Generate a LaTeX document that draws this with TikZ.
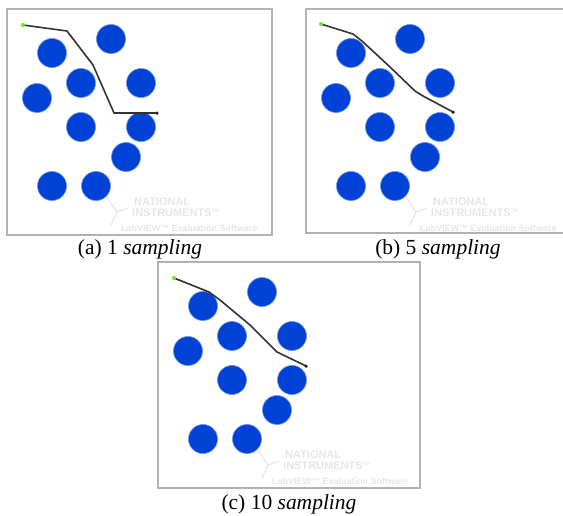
\documentclass[tikz,border=0pt]{standalone}
\usepackage{fontspec}
\setmainfont{Liberation Serif}
\newfontfamily\wmfont{Liberation Sans}
\definecolor{obst}{RGB}{0,66,214}
\definecolor{framec}{RGB}{178,178,178}
\definecolor{startc}{RGB}{110,230,60}
\definecolor{wmc}{RGB}{230,230,230}
\tikzset{
  obstacle/.style={circle,fill=obst,draw=obst!60!white,line width=0.6pt,minimum size=29pt,inner sep=0pt},
  panelframe/.style={draw=framec,line width=1.4pt},
  pathline/.style={draw=black!80,line width=1.6pt,line join=round,line cap=round},
  startdot/.style={circle,fill=startc,minimum size=4pt,inner sep=0pt},
  enddot/.style={circle,fill=black,minimum size=3.5pt,inner sep=0pt},
  caption/.style={font=\fontsize{21.5}{24}\selectfont,anchor=center,inner sep=0pt},
  wmtext/.style={font=\wmfont\bfseries\fontsize{11}{12}\selectfont,text=wmc,anchor=west,inner sep=0pt}
}
\newcommand{\obstacles}{%
  \node[obstacle] (o1) at (104,30) {};
  \node[obstacle] (o2) at (45,44) {};
  \node[obstacle] (o3) at (74,74) {};
  \node[obstacle] (o4) at (134,74) {};
  \node[obstacle] (o5) at (30,89) {};
  \node[obstacle] (o6) at (74,118) {};
  \node[obstacle] (o7) at (134,118) {};
  \node[obstacle] (o8) at (119,148) {};
  \node[obstacle] (o9) at (45,177) {};
  \node[obstacle] (o10) at (89,177) {};
}
\newcommand{\watermark}[1]{%
  \begin{scope}
    \clip (0,0) rectangle (#1,226);
    \draw[wmc,line width=1.2pt] (100,188) -- (110,203) -- (104,216) (110,203) -- (121,199);
    \node[wmtext] (wm1) at (127,193) {NATIONAL};
    \node[wmtext] (wm2) at (125,204) {INSTRUMENTS\textsuperscript{\tiny TM}};
    \node[wmtext,font=\wmfont\bfseries\fontsize{9}{11}\selectfont] (wm3) at (114,219) {LabVIEW\texttrademark\ Evaluation Software};
  \end{scope}
}
\begin{document}
\begin{tikzpicture}[x=1pt,y=-1pt]
\useasboundingbox (0,0) rectangle (563,515);
% Panel (a)
\begin{scope}[shift={(7,9)}]
  \watermark{265}
  \obstacles
  \node[startdot] (sa) at (16,16) {};
  \node[enddot] (ea) at (150,104) {};
  \coordinate (a1) at (60,22);
  \coordinate (a2) at (86,56);
  \coordinate (a3) at (107,104);
  \draw[pathline] (sa.center) -- (a1) -- (a2) -- (a3) -- (ea.center);
  \node[startdot] at (16,16) {};
  \draw[panelframe] (0,0) rectangle (265,226);
\end{scope}
% Panel (b)
\begin{scope}[shift={(306,9)}]
  \watermark{262}
  \obstacles
  \node[startdot] (sb) at (15,15) {};
  \node[enddot] (eb) at (147,103) {};
  \coordinate (b1) at (47,25);
  \coordinate (b2) at (56,32);
  \coordinate (b3) at (84,58);
  \coordinate (b4) at (109,82);
  \coordinate (b5) at (117,87);
  \draw[pathline] (sb.center) -- (b1) -- (b2) -- (b3) -- (b4) -- (b5) -- (eb.center);
  \node[startdot] at (15,15) {};
  \draw[panelframe] (262,0) -- (0,0) -- (0,224) -- (262,224);
\end{scope}
% Panel (c)
\begin{scope}[shift={(158,262)}]
  \watermark{262}
  \obstacles
  \node[startdot] (sc) at (16,16) {};
  \node[enddot] (ec) at (148,104) {};
  \coordinate (c1) at (51,30);
  \coordinate (c2) at (62,38);
  \coordinate (c3) at (92,63);
  \coordinate (c4) at (119,90);
  \draw[pathline] (sc.center) -- (c1) -- (c2) -- (c3) -- (c4) -- (ec.center);
  \node[startdot] at (16,16) {};
  \draw[panelframe] (0,0) rectangle (262,226);
\end{scope}
% Captions
\node[caption] (capa) at (140,249) {(a) 1 \textit{sampling}};
\node[caption] (capb) at (438,249) {(b) 5 \textit{sampling}};
\node[caption] (capc) at (289,504) {(c) 10 \textit{sampling}};
\end{tikzpicture}
\end{document}
